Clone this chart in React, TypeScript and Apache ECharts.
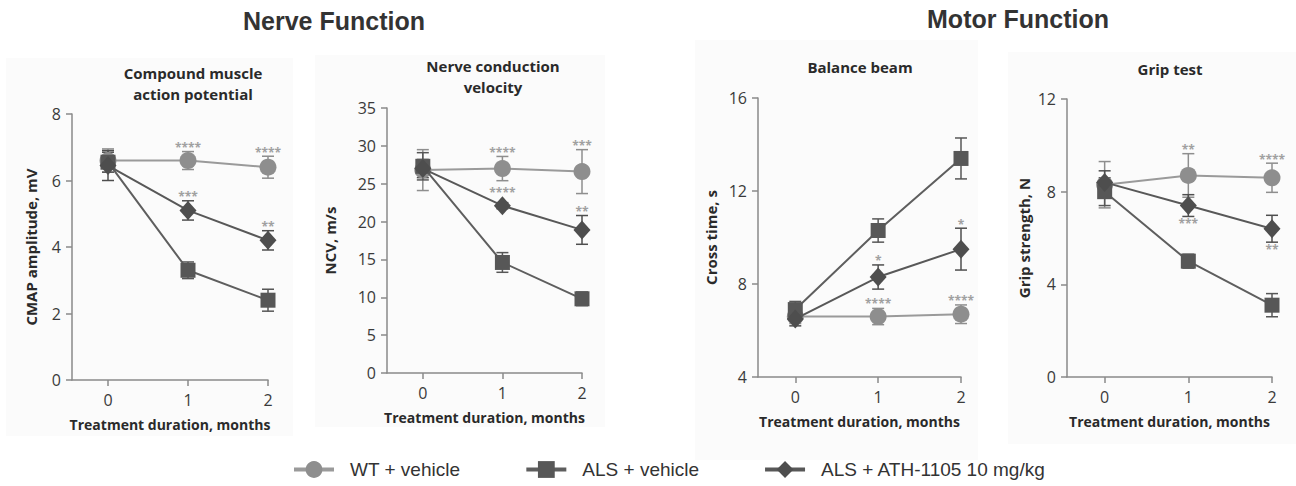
import React, { useEffect, useRef } from "react";
import * as echarts from "echarts";

// ---------- data ----------
const months = [0, 1, 2];
const seriesNames = ["WT + vehicle", "ALS + vehicle", "ALS + ATH-1105 10 mg/kg"];

const panelTitles = ["Compound muscle\naction potential", "Nerve conduction\nvelocity", "Balance beam", "Grip test"];
const yAxisNames = ["CMAP amplitude, mV", "NCV, m/s", "Cross time, s", "Grip strength, N"];
const xAxisName = "Treatment duration, months";
const yMins = [0, 0, 4, 0];
const yMaxs = [8, 35, 16, 12];
const yIntervals = [2, 5, 4, 4];

// CMAP
const cmapWT = [6.6, 6.6, 6.4];
const cmapWTErr = [0.35, 0.27, 0.33];
const cmapALS = [6.55, 3.3, 2.4];
const cmapALSErr = [0.3, 0.25, 0.33];
const cmapATH = [6.45, 5.1, 4.2];
const cmapATHErr = [0.45, 0.29, 0.29];
// NCV
const ncvWT = [26.8, 27.0, 26.6];
const ncvWTErr = [2.7, 1.6, 2.9];
const ncvALS = [27.3, 14.6, 9.8];
const ncvALSErr = [1.8, 1.3, 0.9];
const ncvATH = [27.0, 22.1, 18.9];
const ncvATHErr = [1.2, 0.4, 1.9];
// Balance beam
const beamWT = [6.6, 6.6, 6.7];
const beamWTErr = [0.3, 0.35, 0.4];
const beamALS = [6.9, 10.3, 13.4];
const beamALSErr = [0.35, 0.5, 0.88];
const beamATH = [6.5, 8.3, 9.5];
const beamATHErr = [0.3, 0.52, 0.9];
// Grip test
const gripWT = [8.3, 8.7, 8.6];
const gripWTErr = [1.0, 0.94, 0.63];
const gripALS = [8.0, 5.0, 3.1];
const gripALSErr = [0.6, 0.3, 0.5];
const gripATH = [8.4, 7.4, 6.4];
const gripATHErr = [0.5, 0.47, 0.58];

// significance labels
const cmapWTStars = ["", "****", "****"];
const cmapATHStars = ["", "***", "**"];
const ncvWTStars = ["", "****", "***"];
const ncvATHStars = ["", "****", "**"];
const beamWTStars = ["", "****", "****"];
const beamATHStars = ["", "*", "*"];
const gripWTStars = ["", "**", "****"];
const gripATHStars = ["", "***", "**"];

const panelValues = [
  [cmapWT, cmapALS, cmapATH],
  [ncvWT, ncvALS, ncvATH],
  [beamWT, beamALS, beamATH],
  [gripWT, gripALS, gripATH],
];
const panelErrors = [
  [cmapWTErr, cmapALSErr, cmapATHErr],
  [ncvWTErr, ncvALSErr, ncvATHErr],
  [beamWTErr, beamALSErr, beamATHErr],
  [gripWTErr, gripALSErr, gripATHErr],
];
// [seriesIndex, stars, direction(1 above, -1 below)]
const panelStars: [number, string[], number][][] = [
  [[0, cmapWTStars, 1], [2, cmapATHStars, 1]],
  [[0, ncvWTStars, 1], [2, ncvATHStars, 1]],
  [[0, beamWTStars, 1], [2, beamATHStars, 1]],
  [[0, gripWTStars, 1], [2, gripATHStars, -1]],
];

// ---------- styles ----------
const FONT = '"Open Sans", "DejaVu Sans", sans-serif';
const markerColors = ["#8e8e8e", "#575757", "#4e4e4e"];
const lineColors = ["#9a9a9a", "#5e5e5e", "#585858"];
const symbols = ["circle", "rect", "diamond"];
const symbolSizes: any[] = [17, 15, [17, 19]];

const grids = [
  { left: 72, top: 114, width: 196, height: 266 },
  { left: 387, top: 108, width: 195, height: 265 },
  { left: 758, top: 98, width: 203, height: 279 },
  { left: 1067, top: 99, width: 205, height: 278 },
];
const yNameGaps = [34, 50, 40, 36];
const panelRects = [
  { x: 6, y: 58, w: 287, h: 378 },
  { x: 315, y: 55, w: 290, h: 372 },
  { x: 695, y: 40, w: 283, h: 420 },
  { x: 1008, y: 52, w: 288, h: 392 },
];
const titleCenters = [
  { x: 193, y: 83 },
  { x: 493, y: 76 },
  { x: 860, y: 67 },
  { x: 1170, y: 69 },
];

export default function App() {
  const ref = useRef<HTMLDivElement>(null);
  useEffect(() => {
    document.body.style.margin = "0";
    const chart = echarts.init(ref.current!, null, { renderer: "svg" });

    const xAxis: any[] = [];
    const yAxis: any[] = [];
    const series: any[] = [];
    const graphic: any[] = [];

    panelRects.forEach((r) => {
      graphic.push({
        type: "rect",
        shape: { x: r.x, y: r.y, width: r.w, height: r.h },
        style: { fill: "#fbfbfb" },
        z: -100,
        silent: true,
      });
    });
    graphic.push({
      type: "text",
      x: 334,
      y: 21,
      style: { text: "Nerve Function", font: 'bold 25px "Liberation Sans", Arial, sans-serif', fill: "#333", align: "center", verticalAlign: "middle" },
    });
    graphic.push({
      type: "text",
      x: 1018,
      y: 19,
      style: { text: "Motor Function", font: 'bold 25px "Liberation Sans", Arial, sans-serif', fill: "#333", align: "center", verticalAlign: "middle" },
    });
    titleCenters.forEach((c, i) => {
      graphic.push({
        type: "text",
        x: c.x,
        y: c.y,
        style: {
          text: panelTitles[i],
          font: `bold 15px ${FONT}`,
          fill: "#2a2a2a",
          align: "center",
          verticalAlign: "middle",
          lineHeight: 21,
        },
      });
    });

    grids.forEach((g, p) => {
      const axisColor = "#8a8a8a";
      xAxis.push({
        gridIndex: p,
        type: "value",
        min: -0.45,
        max: 2,
        name: xAxisName,
        nameLocation: "middle",
        nameGap: 37,
        nameTextStyle: { fontFamily: FONT, fontWeight: "bold", fontSize: 14, color: "#2a2a2a" },
        axisLine: { onZero: false, lineStyle: { color: axisColor, width: 1.5 } },
        axisTick: { customValues: months, length: 6, lineStyle: { color: axisColor, width: 1.5 } },
        axisLabel: { customValues: months, margin: 12, fontFamily: FONT, fontSize: 16, color: "#3a3a3a" },
        splitLine: { show: false },
      });
      yAxis.push({
        gridIndex: p,
        type: "value",
        min: yMins[p],
        max: yMaxs[p],
        interval: yIntervals[p],
        name: yAxisNames[p],
        nameLocation: "middle",
        nameGap: yNameGaps[p],
        nameTextStyle: { fontFamily: FONT, fontWeight: "bold", fontSize: 15, color: "#2a2a2a" },
        axisLine: { show: true, onZero: false, lineStyle: { color: axisColor, width: 1.5 } },
        axisTick: { show: true, length: 6, lineStyle: { color: axisColor, width: 1.5 } },
        axisLabel: { margin: 11, fontFamily: FONT, fontSize: 16, color: "#3a3a3a" },
        splitLine: { show: false },
      });

      // error bars
      for (let s = 0; s < 3; s++) {
        const vals = panelValues[p][s];
        const errs = panelErrors[p][s];
        const color = markerColors[s];
        series.push({
          type: "custom",
          xAxisIndex: p,
          yAxisIndex: p,
          silent: true,
          z: 2,
          encode: { x: 0, y: 1 },
          data: months.map((m, i) => [m, vals[i], errs[i]]),
          renderItem: (params: any, api: any) => {
            const x = api.value(0);
            const y = api.value(1);
            const e = api.value(2);
            const t = api.coord([x, y + e]);
            const b = api.coord([x, y - e]);
            const hw = 6;
            const st = { stroke: color, lineWidth: 1.5 };
            return {
              type: "group",
              children: [
                { type: "line", shape: { x1: t[0], y1: t[1], x2: b[0], y2: b[1] }, style: st },
                { type: "line", shape: { x1: t[0] - hw, y1: t[1], x2: t[0] + hw, y2: t[1] }, style: st },
                { type: "line", shape: { x1: b[0] - hw, y1: b[1], x2: b[0] + hw, y2: b[1] }, style: st },
              ],
            };
          },
        });
      }
      // lines with markers
      for (let s = 0; s < 3; s++) {
        series.push({
          type: "line",
          name: seriesNames[s],
          xAxisIndex: p,
          yAxisIndex: p,
          z: 3 + s,
          data: months.map((m, i) => [m, panelValues[p][s][i]]),
          symbol: symbols[s],
          symbolSize: symbolSizes[s],
          showAllSymbol: true,
          lineStyle: { color: lineColors[s], width: 2 },
          itemStyle: { color: markerColors[s] },
        });
      }
      // significance stars
      panelStars[p].forEach(([s, stars, dir]) => {
        const vals = panelValues[p][s];
        const errs = panelErrors[p][s];
        series.push({
          type: "custom",
          xAxisIndex: p,
          yAxisIndex: p,
          silent: true,
          z: 10,
          encode: { x: 0, y: 1 },
          data: months.map((m, i) => [m, vals[i], errs[i]]),
          renderItem: (params: any, api: any) => {
            const i = params.dataIndex;
            const txt = stars[i];
            if (!txt) return null;
            const x = api.value(0);
            const y = api.value(1);
            const e = api.value(2);
            const c = api.coord([x, y]);
            const edge = api.coord([x, y + dir * e]);
            let py = edge[1];
            if (dir > 0) py = Math.min(py, c[1] - 9);
            else py = Math.max(py, c[1] + 9);
            return {
              type: "text",
              x: c[0],
              y: dir > 0 ? py + 2 : py + 1,
              style: {
                text: txt,
                font: `bold 12px ${FONT}`,
                fill: "#a0a0a0",
                align: "center",
                verticalAlign: dir > 0 ? "bottom" : "top",
              },
            };
          },
        });
      });
    });

    chart.setOption({
      animation: false,
      backgroundColor: "#ffffff",
      grid: grids.map((g) => ({ ...g, containLabel: false })),
      xAxis,
      yAxis,
      series,
      graphic,
      legend: {
        data: seriesNames,
        left: 292,
        top: 460,
        padding: 0,
        itemWidth: 40,
        itemHeight: 21,
        itemGap: 64,
        lineStyle: { width: 4 },
        textStyle: {
          fontFamily: '"Liberation Sans", Arial, sans-serif',
          fontSize: 19,
          color: "#333",
          padding: [0, 0, 0, 11],
        },
        selectedMode: false,
      },
    });
    return () => chart.dispose();
  }, []);
  return <div ref={ref} style={{ width: 1296, height: 486 }} />;
}
